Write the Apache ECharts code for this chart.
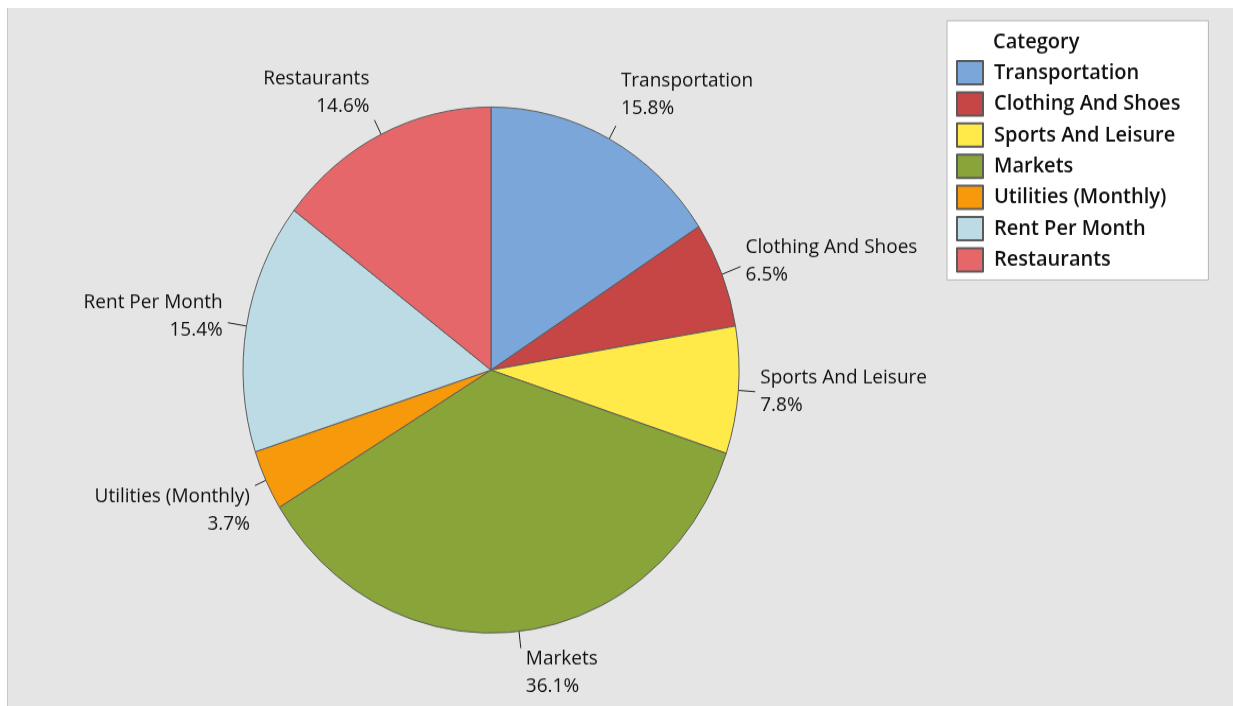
<!DOCTYPE html>
<html>
<head>
<meta charset="utf-8">
<script src="https://cdn.jsdelivr.net/npm/echarts@6/dist/echarts.min.js"></script>
<style>
html,body{margin:0;padding:0;background:#fff;width:1233px;height:706px;overflow:hidden;}
#frame{position:absolute;left:7px;top:8px;width:1226px;height:698px;border-left:1px solid #c8c8c8;box-sizing:border-box;background:#e5e5e5;overflow:hidden;}
#chart{position:absolute;left:0;top:0;width:1225px;height:698px;transform:scaleY(1.0605);transform-origin:0 0;}
</style>
</head>
<body>
<div id="frame"><div id="chart"></div></div>
<script>
const categories = ['Transportation','Clothing And Shoes','Sports And Leisure','Markets','Utilities (Monthly)','Rent Per Month','Restaurants'];
const percents = [15.8, 6.5, 7.8, 36.1, 3.7, 15.4, 14.6];
const colors = ['#7aa6d9','#c64545','#ffea4a','#89a53a','#f6990a','#bddbe5','#e6676a'];
const legendTitle = 'Category';

// label placement tweaks (style only): line length, spacer above / below text
const labelTweaks = {
  'Transportation':      {len: 14, top: 0,  bottom: 58},
  'Clothing And Shoes':  {len: 20, top: 0,  bottom: 10},
  'Sports And Leisure':  {len: 17, top: 0,  bottom: 0},
  'Markets':             {len: 16, top: 45, bottom: 0},
  'Utilities (Monthly)': {len: 12, top: 47, bottom: 0},
  'Rent Per Month':      {len: 19, top: 0,  bottom: 13},
  'Restaurants':         {len: 15, top: 0,  bottom: 53}
};
const rich = {};
Object.values(labelTweaks).forEach(t => {
  [t.top, t.bottom].forEach(h => { if (h) rich['sp' + h] = {lineHeight: h, fontSize: 1, height: h}; });
});

const chart = echarts.init(document.getElementById('chart'));
const font = '"Open Sans", "Noto Sans", sans-serif';
chart.setOption({
  animation: false,
  title: {
    text: legendTitle,
    left: 980, top: 17,
    textStyle: {fontFamily: font, fontSize: 20, fontWeight: 600, color: '#111'}
  },
  legend: {
    orient: 'vertical',
    left: 939, top: 12,
    backgroundColor: '#fff',
    borderColor: '#b4b4b4', borderWidth: 1,
    padding: [37, 28, 7, 9],
    itemWidth: 26, itemHeight: 22, itemGap: 5.4,
    icon: 'rect',
    data: categories,
    textStyle: {fontFamily: font, fontSize: 20, lineHeight: 20, fontWeight: 600, color: '#111', padding: [0,0,0,6]}
  },
  series: [{
    type: 'pie',
    center: [483, 341.4],
    radius: 248,
    startAngle: 90,
    clockwise: true,
    avoidLabelOverlap: false,
    itemStyle: {borderColor: '#5a5a5a', borderWidth: 1},
    label: {
      show: true,
      position: 'outside',
      formatter: p => {
        const t = labelTweaks[p.name];
        let s = '';
        if (t.top) s += '{sp' + t.top + '| }\n';
        s += p.name + '\n' + p.value.toFixed(1) + '%';
        if (t.bottom) s += '\n{sp' + t.bottom + '| }';
        return s;
      },
      rich: rich,
      fontFamily: font, fontSize: 19, color: '#111', lineHeight: 26
    },
    labelLine: {show: true, length: 16, length2: 0, lineStyle: {color: '#222', width: 1}},
    emphasis: {disabled: true},
    data: categories.map((c, i) => ({
      name: c,
      value: percents[i],
      itemStyle: {color: colors[i]},
      labelLine: {length: labelTweaks[c].len, length2: 0}
    }))
  }]
});
</script>
</body>
</html>
